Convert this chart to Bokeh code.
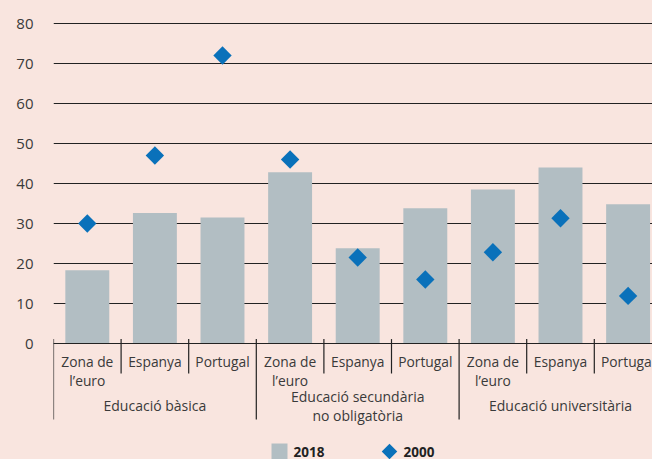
import math
from bokeh.plotting import figure
from bokeh.models import Range1d, FixedTicker, Span
from bokeh.core.properties import value
from bokeh.embed import file_html
from bokeh.resources import INLINE

# ---- data ----
groups = ["Educació bàsica", "Educació secundària\nno obligatòria", "Educació universitària"]
regions = ["Zona de\nl\u2019euro", "Espanya", "Portugal"]
series_names = ["2018", "2000"]
values_2018 = [18.3, 32.6, 31.5, 42.8, 23.8, 33.8, 38.5, 44.0, 34.8]
values_2000 = [30.0, 47.0, 72.0, 46.0, 21.5, 16.0, 22.8, 31.3, 11.9]
y_ticks = [0, 10, 20, 30, 40, 50, 60, 70, 80]

BG = "#f9e5df"
BAR = "#b2bec3"
BLUE = "#0a71ba"
TXT = "#3a3a3a"
FONT = "Open Sans"

# ---- layout (pixels) ----
W, H = 652, 459
LEFT, TOP = 53, 10
PX_PER_X = 67.6
PX_PER_Y = 4.0
Y0_PX = 343  # pixel row of value 0

frame_w = W - LEFT
frame_h = H - TOP
x_end = frame_w / PX_PER_X
y_top = (Y0_PX - TOP) / PX_PER_Y
y_bot = y_top - frame_h / PX_PER_Y


def dx(px):
    return (px - LEFT) / PX_PER_X


def dy(py):
    return (Y0_PX - py) / PX_PER_Y


n_sub = len(regions)
n = len(groups) * n_sub
xs = [i + 0.5 for i in range(n)]
sub_labels = regions * len(groups)
group_x = [g * n_sub + n_sub / 2 for g in range(len(groups))]

p = figure(width=W, height=H, output_backend="svg", toolbar_location=None,
           x_range=Range1d(0, x_end), y_range=Range1d(y_bot, y_top),
           x_axis_location=None, y_axis_location="left",
           min_border_left=LEFT, min_border_right=0, min_border_top=TOP, min_border_bottom=0)
p.background_fill_color = BG
p.border_fill_color = BG
p.outline_line_color = None
p.xgrid.visible = False
p.ygrid.ticker = FixedTicker(ticks=y_ticks)
p.ygrid.grid_line_color = "#222222"
p.ygrid.grid_line_width = 1

ax = p.yaxis[0]
ax.ticker = FixedTicker(ticks=y_ticks)
ax.axis_line_color = None
ax.major_tick_line_color = None
ax.minor_tick_line_color = None
ax.major_tick_out = 0
ax.major_tick_in = 0
ax.minor_tick_out = 0
ax.minor_tick_in = 0
ax.major_label_standoff = 20
ax.major_label_text_align = "right"
ax.major_label_text_font = FONT
ax.major_label_text_font_size = "15px"
ax.major_label_text_color = TXT

bars = p.vbar(x=xs, top=values_2018, width=0.65, bottom=0, fill_color=BAR, line_color=None)
dia = p.scatter(x=xs, y=values_2000, marker="square", size=13, angle=math.pi / 4,
                fill_color=BLUE, line_color=None)

p.add_layout(Span(location=0, dimension="width", line_color="#222222", line_width=1.2, level="overlay"))

# separators
bx = list(range(n + 1))
is_group = [b % n_sub == 0 for b in bx]
p.segment(x0=bx, x1=bx, y0=[1.1] * len(bx), y1=[-19 if g else -7.5 for g in is_group],
          line_color="#222222", line_width=1.2)

p.text(x=xs, y=[-2.0] * n, text=sub_labels, text_align="center", text_baseline="top",
       text_font=value(FONT), text_font_size="13.8px", text_color=TXT, text_line_height=1.02)
p.text(x=group_x, y=[-15.6] * len(groups), text=groups, text_align="center", text_baseline="middle",
       text_font=value(FONT), text_font_size="14px", text_color=TXT, text_line_height=1.0)

# legend (manual, so the diamond keeps its rotation)
ly = dy(451)
p.rect(x=[dx(279)], y=[ly], width=16, height=16, width_units="screen", height_units="screen",
       fill_color=BAR, line_color=None)
p.scatter(x=[dx(389)], y=[ly], marker="square", size=11, angle=math.pi / 4,
          fill_color=BLUE, line_color=None)
p.text(x=[dx(293), dx(403)], y=[ly, ly], text=series_names, text_baseline="middle",
       text_font=value(FONT), text_font_style="bold", text_font_size="13.5px", text_color="#222222")

html = file_html(p, INLINE)
html = html.replace("</head>", "<style>html,body{background:%s;margin:0;padding:0;overflow:hidden;}</style></head>" % BG, 1)
open("out.html", "w").write(html)
